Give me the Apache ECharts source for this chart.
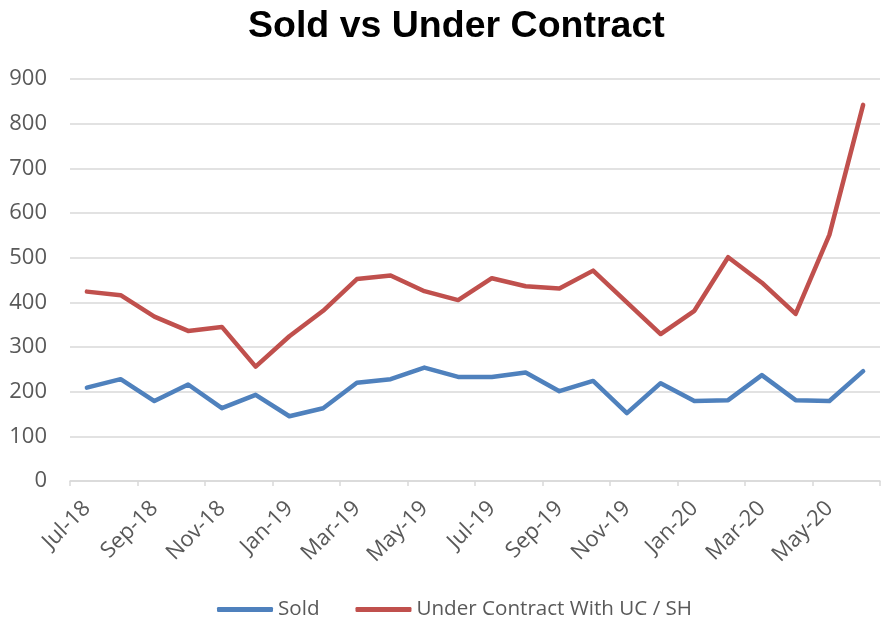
<!DOCTYPE html>
<html>
<head>
<meta charset="utf-8">
<script src="https://cdn.jsdelivr.net/npm/echarts@6/dist/echarts.min.js"></script>
<style>html,body{margin:0;padding:0;background:#fff}#c{width:885px;height:618px}</style>
</head>
<body>
<div id="c"></div>
<script>
const months = ['Jul-18','Aug-18','Sep-18','Oct-18','Nov-18','Dec-18','Jan-19','Feb-19','Mar-19','Apr-19','May-19','Jun-19','Jul-19','Aug-19','Sep-19','Oct-19','Nov-19','Dec-19','Jan-20','Feb-20','Mar-20','Apr-20','May-20','Jun-20'];
const sold = [209,228,179,216,163,193,145,163,220,228,254,233,233,243,201,224,152,219,179,181,237,181,179,246];
const underContract = [424,416,368,336,345,256,324,381,452,460,425,405,454,436,431,471,400,329,381,501,444,374,551,842];
const yTicks = [0,100,200,300,400,500,600,700,800,900];

const chart = echarts.init(document.getElementById('c'));
chart.setOption({
  animation: false,
  title: {
    text: 'Sold vs Under Contract',
    left: 243,
    top: 3,
    textStyle: {fontFamily: 'Liberation Sans', fontWeight: 'bold', fontSize: 37.5, color: '#000'}
  },
  legend: {
    top: 599,
    left: 217,
    padding: 0,
    itemWidth: 56,
    itemHeight: 5,
    itemGap: 36,
    icon: 'roundRect',
    textStyle: {fontFamily: 'Open Sans', fontSize: 20.6, color: '#595959'},
    data: ['Sold', 'Under Contract With UC / SH']
  },
  grid: {left: 70, right: 5, top: 79, bottom: 137},
  xAxis: {
    type: 'category',
    data: months,
    boundaryGap: true,
    axisLine: {lineStyle: {color: '#d9d9d9', width: 1.5}},
    axisTick: {show: true, length: 5, interval: 1, lineStyle: {color: '#d9d9d9', width: 1.5}},
    axisLabel: {interval: 1, rotate: 45, margin: 24, fontFamily: 'Open Sans', fontSize: 22, color: '#595959'}
  },
  yAxis: {
    type: 'value',
    min: 0, max: 900, interval: 100,
    axisLine: {show: false},
    axisTick: {show: false},
    axisLabel: {margin: 23, fontFamily: 'Open Sans', fontSize: 22, color: '#595959',
      formatter: v => yTicks.includes(v) ? String(v) : ''},
    splitLine: {lineStyle: {color: '#d9d9d9', width: 1.5}}
  },
  series: [
    {name: 'Sold', type: 'line', data: sold, showSymbol: false, symbol: 'none',
     lineStyle: {color: '#4F81BD', width: 4.5, cap: 'round', join: 'round'}, itemStyle: {color: '#4F81BD'}},
    {name: 'Under Contract With UC / SH', type: 'line', data: underContract, showSymbol: false, symbol: 'none',
     lineStyle: {color: '#C0504D', width: 4.5, cap: 'round', join: 'round'}, itemStyle: {color: '#C0504D'}}
  ]
});
</script>
</body>
</html>
